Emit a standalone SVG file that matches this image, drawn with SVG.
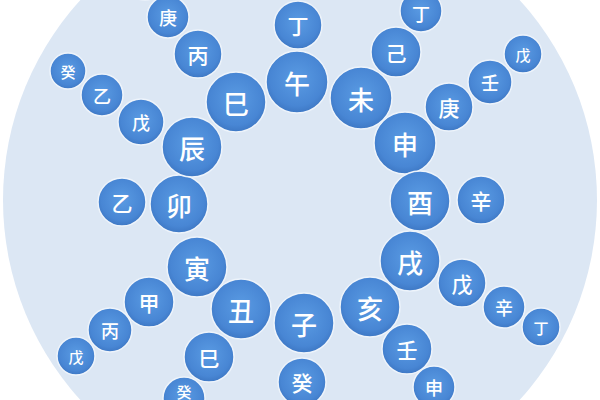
<svg xmlns="http://www.w3.org/2000/svg" width="600" height="400" viewBox="0 0 600 400">
<defs>
<radialGradient id="g" cx="50%" cy="45%" r="58%">
<stop offset="0" stop-color="#5a9be3"/>
<stop offset="0.75" stop-color="#4886d4"/>
<stop offset="1" stop-color="#3b74c0"/>
</radialGradient>
<style>
.n{fill:url(#g);stroke:#eef4fb;stroke-width:1.5}
text{fill:#ffffff;font-family:"Noto Sans CJK SC","Noto Sans CJK JP",sans-serif;font-weight:500;text-anchor:middle;dominant-baseline:central}
.l{font-size:26px}
.m{font-size:21px}
.s{font-size:18px}
.x{font-size:15px}
</style>
</defs>
<rect width="600" height="400" fill="#ffffff"/>
<circle cx="300" cy="200" r="297" fill="#dce7f4"/>
<g id="outer">
<g id="n-top-sliver"><circle class="n" cx="145" cy="-22" r="22"/></g>
<g id="n-geng1"><circle class="n" cx="168" cy="17" r="21"/><text class="s" x="168" y="17">庚</text></g>
<g id="n-bing1"><circle class="n" cx="198" cy="54" r="24"/><text class="m" x="198" y="54">丙</text></g>
<g id="n-gui1"><circle class="n" cx="68" cy="71" r="18"/><text class="x" x="68" y="71">癸</text></g>
<g id="n-yi1"><circle class="n" cx="102" cy="95" r="21"/><text class="s" x="102" y="95">乙</text></g>
<g id="n-wu1"><circle class="n" cx="141" cy="122" r="23"/><text class="s" x="141" y="122">戊</text></g>
<g id="n-yi2"><circle class="n" cx="122" cy="202" r="24"/><text class="m" x="122" y="202">乙</text></g>
<g id="n-jia"><circle class="n" cx="149" cy="302" r="25"/><text class="m" x="149" y="302">甲</text></g>
<g id="n-bing2"><circle class="n" cx="110" cy="330" r="22"/><text class="s" x="110" y="330">丙</text></g>
<g id="n-wu2"><circle class="n" cx="76" cy="356" r="19"/><text class="x" x="76" y="356">戊</text></g>
<g id="n-si2"><circle class="n" cx="209" cy="357" r="25"/><text class="m" x="209" y="357">巳</text></g>
<g id="n-gui2"><circle class="n" cx="184" cy="398" r="21"/><text class="x" x="184" y="391">癸</text></g>
<g id="n-gui3"><circle class="n" cx="302" cy="382" r="24"/><text class="m" x="302" y="382">癸</text></g>
<g id="n-ren2"><circle class="n" cx="407" cy="349" r="25"/><text class="m" x="407" y="349">壬</text></g>
<g id="n-shen2"><circle class="n" cx="434" cy="387" r="21"/><text class="s" x="434" y="387">申</text></g>
<g id="n-wu3"><circle class="n" cx="462" cy="283" r="24"/><text class="m" x="462" y="283">戊</text></g>
<g id="n-xin2"><circle class="n" cx="504" cy="307" r="21"/><text class="s" x="504" y="307">辛</text></g>
<g id="n-ding3"><circle class="n" cx="541" cy="327" r="19"/><text class="x" x="541" y="327">丁</text></g>
<g id="n-xin1"><circle class="n" cx="481" cy="200" r="24"/><text class="m" x="481" y="200">辛</text></g>
<g id="n-geng2"><circle class="n" cx="449" cy="107" r="24"/><text class="m" x="449" y="107">庚</text></g>
<g id="n-ren1"><circle class="n" cx="490" cy="82" r="22"/><text class="s" x="490" y="82">壬</text></g>
<g id="n-wu4"><circle class="n" cx="523" cy="54" r="19"/><text class="x" x="523" y="54">戊</text></g>
<g id="n-ji"><circle class="n" cx="396" cy="52" r="25"/><text class="m" x="396" y="52">己</text></g>
<g id="n-ding2"><circle class="n" cx="421" cy="11" r="21"/><text class="s" x="421" y="13">丁</text></g>
<g id="n-ding1"><circle class="n" cx="298" cy="25" r="24"/><text class="m" x="298" y="25">丁</text></g>
</g>
<g id="inner">
<g id="n-wu"><circle class="n" cx="297" cy="82" r="31"/><text class="l" x="297" y="82">午</text></g>
<g id="n-wei"><circle class="n" cx="361" cy="98" r="31"/><text class="l" x="361" y="98">未</text></g>
<g id="n-shen"><circle class="n" cx="405" cy="143" r="31"/><text class="l" x="405" y="143">申</text></g>
<g id="n-you"><circle class="n" cx="420" cy="201" r="30"/><text class="l" x="420" y="201">酉</text></g>
<g id="n-xu"><circle class="n" cx="410" cy="261" r="30"/><text class="l" x="410" y="261">戌</text></g>
<g id="n-hai"><circle class="n" cx="370" cy="307" r="30"/><text class="l" x="370" y="307">亥</text></g>
<g id="n-zi"><circle class="n" cx="304" cy="323" r="30"/><text class="l" x="304" y="323">子</text></g>
<g id="n-chou"><circle class="n" cx="241" cy="309" r="30"/><text class="l" x="241" y="309">丑</text></g>
<g id="n-yin"><circle class="n" cx="197" cy="267" r="30"/><text class="l" x="197" y="267">寅</text></g>
<g id="n-mao"><circle class="n" cx="179" cy="204" r="29"/><text class="l" x="179" y="204">卯</text></g>
<g id="n-chen"><circle class="n" cx="192" cy="147" r="30"/><text class="l" x="192" y="147">辰</text></g>
<g id="n-si"><circle class="n" cx="236" cy="102" r="30"/><text class="l" x="236" y="102">巳</text></g>
</g>
</svg>
